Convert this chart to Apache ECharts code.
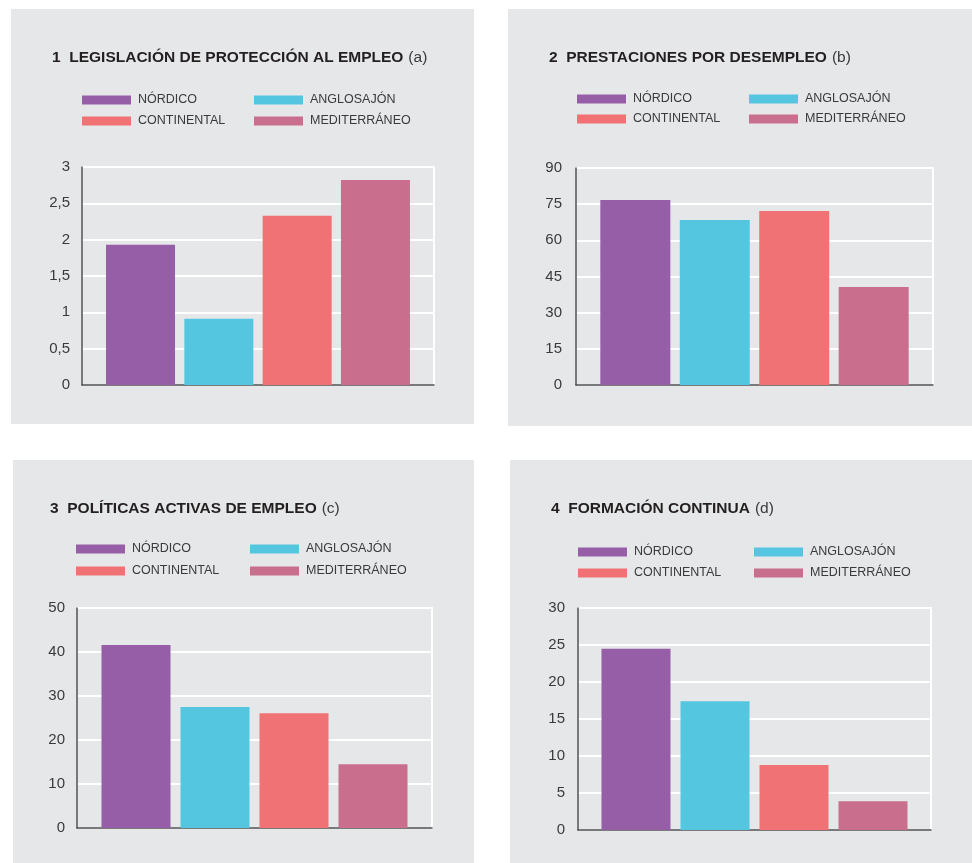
<!DOCTYPE html>
<html>
<head>
<meta charset="utf-8">
<title>Regímenes de empleo</title>
<script src="https://cdn.jsdelivr.net/npm/echarts@6/dist/echarts.min.js"></script>
<style>
  html, body { margin: 0; padding: 0; background: #fff; }
  #chart { width: 972px; height: 863px; }
</style>
</head>
<body>
<div id="chart"></div>
<script>
  // grupos de países (series)
  var grupos = ['NÓRDICO', 'ANGLOSAJÓN', 'CONTINENTAL', 'MEDITERRÁNEO']
  var colores = ['#955ea6', '#54c6df', '#f07275', '#c96e8c']

  var proteccionEmpleo = [1.93, 0.91, 2.33, 2.82]
  var prestacionesDesempleo = [76.7, 68.4, 72.2, 40.6]
  var politicasActivas = [41.6, 27.5, 26.1, 14.5]
  var formacionContinua = [24.5, 17.4, 8.8, 3.9]

  // ejes
  var ejeMax = [3, 90, 50, 30]
  var ejeIntervalo = [0.5, 15, 10, 5]

  var titulos = [
    ['1  LEGISLACIÓN DE PROTECCIÓN AL EMPLEO', '(a)'],
    ['2  PRESTACIONES POR DESEMPLEO', '(b)'],
    ['3  POLÍTICAS ACTIVAS DE EMPLEO', '(c)'],
    ['4  FORMACIÓN CONTINUA', '(d)']
  ]
  var valores = [proteccionEmpleo, prestacionesDesempleo, politicasActivas, formacionContinua]

  // maquetación de cada panel
  var paneles = [
    { fondo: [11, 9, 463, 415], titulo: [52, 49], leyenda: [82, 254, 100, 121], grid: [82, 167, 352, 218], barra: 69, hueco: '13.5%', margen: 12 },
    { fondo: [508, 9, 464, 417], titulo: [549, 49], leyenda: [577, 749, 99, 119], grid: [576, 168, 357, 217], barra: 70, hueco: '13.5%', margen: 14 },
    { fondo: [13, 460, 461, 403], titulo: [50, 500], leyenda: [76, 250, 549, 571], grid: [77, 608, 355, 220], barra: 69, hueco: '14.5%', margen: 12 },
    { fondo: [510, 460, 462, 403], titulo: [551, 500], leyenda: [578, 754, 552, 573], grid: [578, 608, 353, 222], barra: 69, hueco: '14.5%', margen: 13 }
  ]

  var fuente = "'Liberation Sans', Arial, sans-serif"

  var option = {
    animation: false,
    textStyle: { fontFamily: fuente },
    graphic: [],
    title: [],
    legend: [],
    grid: [],
    xAxis: [],
    yAxis: [],
    series: []
  }

  paneles.forEach(function (p, i) {
    // fondo gris
    option.graphic.push({
      type: 'rect', z: -10, silent: true,
      shape: { x: p.fondo[0], y: p.fondo[1], width: p.fondo[2], height: p.fondo[3] },
      style: { fill: '#e6e7e9' }
    })

    option.title.push({
      text: '{b|' + titulos[i][0] + '} {n|' + titulos[i][1] + '}',
      left: p.titulo[0],
      top: p.titulo[1],
      padding: 0,
      textStyle: {
        fontWeight: 'normal',
        rich: {
          b: { fontFamily: fuente, fontSize: 15.5, fontWeight: 'bold', color: '#231f20' },
          n: { fontFamily: fuente, fontSize: 15.5, fontWeight: 'normal', color: '#3a3a3a' }
        }
      }
    })

    // leyenda en dos columnas, un elemento por componente
    grupos.forEach(function (g, k) {
      option.legend.push({
        data: [g],
        left: k % 2 === 0 ? p.leyenda[0] : p.leyenda[1],
        top: (k < 2 ? p.leyenda[2] : p.leyenda[3]) - 7,
        padding: 0,
        icon: 'rect',
        itemWidth: 49,
        itemHeight: 9,
        selectedMode: false,
        textStyle: { fontFamily: fuente, fontSize: 12.5, color: '#3a3a3a', lineHeight: 14, padding: [0, 0, 0, 2] }
      })
    })

    option.grid.push({
      left: p.grid[0], top: p.grid[1], width: p.grid[2], height: p.grid[3],
      show: true, borderColor: '#ffffff', borderWidth: 2, backgroundColor: 'transparent'
    })

    option.xAxis.push({
      type: 'category',
      gridIndex: i,
      data: [''],
      axisLine: { lineStyle: { color: '#4d4d4f', width: 1.5 } },
      axisTick: { show: false },
      axisLabel: { show: false },
      splitLine: { show: false }
    })

    option.yAxis.push({
      type: 'value',
      gridIndex: i,
      min: 0,
      max: ejeMax[i],
      interval: ejeIntervalo[i],
      axisLine: { show: true, lineStyle: { color: '#4d4d4f', width: 1.5 } },
      axisTick: { show: false },
      axisLabel: {
        fontSize: 15, color: '#3a3a3a', margin: p.margen,
        formatter: function (v) { return String(v).replace('.', ',') }
      },
      splitLine: { lineStyle: { color: '#ffffff', width: 2 } }
    })

    grupos.forEach(function (g, k) {
      option.series.push({
        name: g,
        type: 'bar',
        xAxisIndex: i,
        yAxisIndex: i,
        barWidth: p.barra,
        barGap: p.hueco,
        itemStyle: { color: colores[k] },
        data: [valores[i][k]]
      })
    })
  })

  var chart = echarts.init(document.getElementById('chart'))
  chart.setOption(option)
</script>
</body>
</html>
